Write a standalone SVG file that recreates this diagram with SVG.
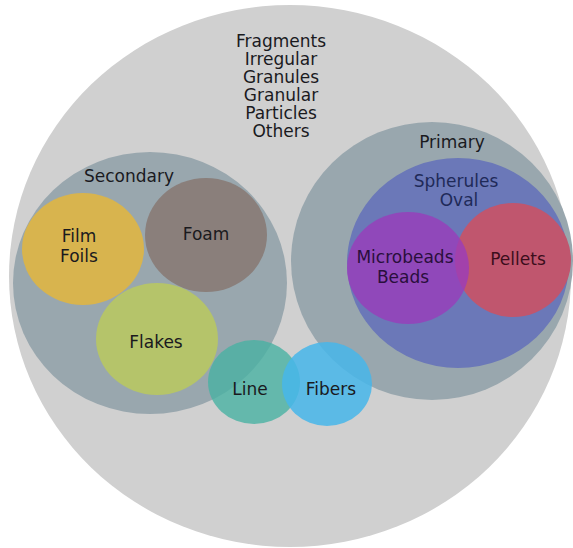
<svg xmlns="http://www.w3.org/2000/svg" width="573" height="548" viewBox="0 0 573 548">
<style>
text{font-family:"DejaVu Sans","Liberation Sans",sans-serif;font-size:17px;text-anchor:middle;fill:#1a1a1e}
.sph{fill:#1f2a58}
.mb{fill:#2a0f3c}
.pl{fill:#3c0e1c}
</style>
<rect width="573" height="548" fill="#ffffff"/>
<g id="all">
<ellipse cx="290" cy="276" rx="281" ry="271" fill="#d0d0d0"/>
<text x="281" y="47">Fragments</text>
<text x="281" y="65">Irregular</text>
<text x="281" y="83">Granules</text>
<text x="281" y="101">Granular</text>
<text x="281" y="119">Particles</text>
<text x="281" y="137">Others</text>
</g>
<g id="secondary">
<ellipse cx="150" cy="283" rx="137" ry="131" fill="#99a7ae"/>
<text x="129" y="182">Secondary</text>
</g>
<g id="primary">
<ellipse cx="432" cy="261" rx="141" ry="139" fill="#99a7ae"/>
<text x="452" y="148">Primary</text>
</g>
<g id="film">
<ellipse cx="83" cy="249" rx="61" ry="56" fill="#d8b44e"/>
<text x="79" y="242">Film</text>
<text x="79" y="262">Foils</text>
</g>
<g id="foam">
<ellipse cx="206" cy="235" rx="61" ry="57" fill="#8a7f7b"/>
<text x="206" y="240">Foam</text>
</g>
<g id="flakes">
<ellipse cx="157" cy="339" rx="61" ry="56" fill="#b5c46a"/>
<text x="156" y="348">Flakes</text>
</g>
<g id="spherules">
<ellipse cx="458" cy="263" rx="111" ry="105" fill="#6b78b8"/>
<text class="sph" x="456" y="187">Spherules</text>
<text class="sph" x="459" y="206">Oval</text>
</g>
<g id="pellets">
<ellipse cx="513" cy="260" rx="58" ry="57" fill="#c0566e"/>
</g>
<g id="microbeads">
<ellipse cx="408" cy="268" rx="61" ry="56" fill="#9a3cba" fill-opacity="0.8"/>
<text class="mb" x="405" y="263">Microbeads</text>
<text class="mb" x="403" y="283">Beads</text>
</g>
<g id="pellets-label">
<text class="pl" x="518" y="265">Pellets</text>
</g>
<g id="line">
<ellipse cx="254" cy="382" rx="46" ry="42" fill="#48b2a2" fill-opacity="0.8"/>
<text x="250" y="395">Line</text>
</g>
<g id="fibers">
<ellipse cx="327" cy="384" rx="45" ry="42" fill="#46b6ea" fill-opacity="0.85"/>
<text x="331" y="395">Fibers</text>
</g>
</svg>
